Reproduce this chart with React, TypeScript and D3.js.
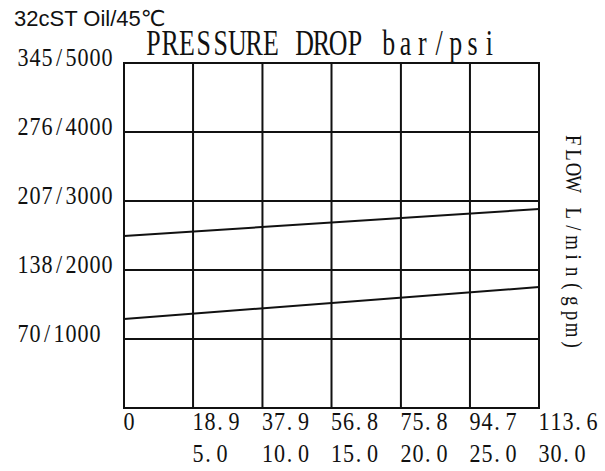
import React from "react";
import * as d3 from "d3";

const flowLpm = [0, 113.6];
const upperDropBar = [172, 199];
const lowerDropBar = [89, 121];

const yGridBar = [69, 138, 207, 276, 345];
const yTickLabels = ["70/1000", "138/2000", "207/3000", "276/4000", "345/5000"];

const xGridLpm = [0, 18.9, 37.9, 56.8, 75.8, 94.7, 113.6];
const xTickLpmLabels = ["0", "18.9", "37.9", "56.8", "75.8", "94.7", "113.6"];
const xTickGpmLabels = ["", "5.0", "10.0", "15.0", "20.0", "25.0", "30.0"];

const titleText = "PRESSURE DROP bar/psi";
const rightLabel = "FLOW L/min(gpm)";
const cornerNote = "32cST Oil/45℃";

const SERIF = "'Liberation Serif', 'DejaVu Serif', serif";

function Mono({ x, y, text, adv, fs, sx = 1, rotate = 0 }: any) {
  const chars: string[] = text.split("");
  return (
    <g transform={`translate(${x},${y}) rotate(${rotate})`}>
      {chars.map((c, i) =>
        c === " " ? null : (
          <text
            key={i}
            transform={`translate(${c === "." ? i * adv + adv * 0.1 : (i + 0.5) * adv},0) scale(${sx},1)`}
            textAnchor={c === "." ? "start" : "middle"}
            fontSize={fs}
            fontFamily={SERIF}
            fill="#111"
          >
            {c}
          </text>
        )
      )}
    </g>
  );
}

export default function App() {
  const W = 605, H = 471;
  const x = d3.scaleLinear().domain([0, 113.6]).range([124, 539]);
  const y = d3.scaleLinear().domain([0, 345]).range([408, 63]);
  const line = d3
    .line<[number, number]>()
    .x((d) => x(d[0]))
    .y((d) => y(d[1]));
  const upper = flowLpm.map((f, i) => [f, upperDropBar[i]] as [number, number]);
  const lower = flowLpm.map((f, i) => [f, lowerDropBar[i]] as [number, number]);

  return (
    <svg
      width={W}
      height={H}
      style={{ position: "absolute", left: 0, top: 0, background: "#fff" }}
    >
      <rect width={W} height={H} fill="#fff" />
      <text x={14} y={26} fontSize={22} fontFamily="'Liberation Sans', Arial, 'DejaVu Sans', sans-serif" fill="#111">
        {cornerNote}
      </text>
      <Mono x={145} y={55} text={titleText} adv={16.8} fs={35} sx={0.74} />

      {yGridBar.map((v) => (
        <line key={"h" + v} x1={x(0)} x2={x(113.6)} y1={y(v)} y2={y(v)} stroke="#111" strokeWidth={2} />
      ))}
      {xGridLpm.map((v) => (
        <line key={"v" + v} x1={x(v)} x2={x(v)} y1={y(0)} y2={y(345)} stroke="#111" strokeWidth={2} />
      ))}
      <rect x={x(0)} y={y(345)} width={x(113.6) - x(0)} height={y(0) - y(345)} fill="none" stroke="#111" strokeWidth={2} />

      <path d={line(upper) || ""} fill="none" stroke="#111" strokeWidth={2} />
      <path d={line(lower) || ""} fill="none" stroke="#111" strokeWidth={2} />

      {yGridBar.map((v, i) => (
        <Mono key={"yl" + v} x={17} y={y(v) + 3} text={yTickLabels[i]} adv={12} fs={26} sx={0.85} />
      ))}
      {xGridLpm.map((v, i) => (
        <Mono key={"xl" + v} x={x(v) - 1} y={430} text={xTickLpmLabels[i]} adv={12} fs={26} sx={0.85} />
      ))}
      {xGridLpm.map((v, i) =>
        xTickGpmLabels[i] ? (
          <Mono key={"xg" + v} x={x(v) - 1} y={462} text={xTickGpmLabels[i]} adv={12} fs={26} sx={0.85} />
        ) : null
      )}
      <Mono x={566} y={133} text={rightLabel} adv={14.6} fs={24} sx={0.78} rotate={90} />
    </svg>
  );
}
